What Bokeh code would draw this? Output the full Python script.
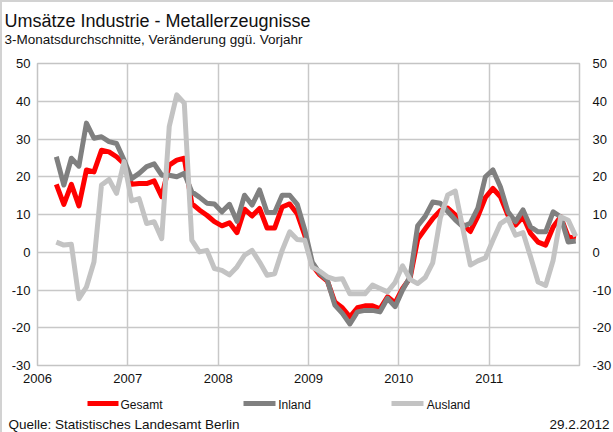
import pandas as pd
from bokeh.plotting import figure
from bokeh.models import (ColumnDataSource, FixedTicker, LinearAxis, Label, Range1d)
from bokeh.embed import file_html
from bokeh.resources import INLINE

FONT = "Liberation Sans"

title_text = "Umsätze Industrie - Metallerzeugnisse"
subtitle_text = "3-Monatsdurchschnitte, Veränderung ggü. Vorjahr"
source_text = "Quelle: Statistisches Landesamt Berlin"
date_text = "29.2.2012"

series_names = ["Gesamt", "Inland", "Ausland"]
series_colors = ["#ff0000", "#808080", "#c3c3c3"]
year_ticks = [2006, 2007, 2008, 2009, 2010, 2011]
year_labels = ["2006", "2007", "2008", "2009", "2010", "2011"]
y_ticks = [-30, -20, -10, 0, 10, 20, 30, 40, 50]
y_labels = ["-30", "-20", "-10", "0", "10", "20", "30", "40", "50"]

first_month = "2006-03-01"   # monthly values, Mar 2006 .. Dec 2011

gesamt = [
    18.0, 12.7, 18.0, 12.3, 21.8, 21.3, 27.0, 26.6, 25.3, 23.5,
    18.0, 18.2, 18.2, 18.9, 14.7, 23.1, 24.4, 24.9, 12.9, 11.2, 9.8, 8.1,
    7.0, 7.8, 5.2, 11.4, 9.6, 11.6, 6.4, 6.4, 12.0, 12.8, 10.2, 4.5,
    -3.5, -6.0, -7.6, -13.2, -14.7, -17.1, -14.7, -14.2, -14.2, -15.0, -11.8, -13.4,
    -9.6, -6.8, 3.4, 6.2, 8.9, 11.0, 11.7, 9.9, 7.3, 5.5, 9.5, 14.5,
    16.9, 14.7, 9.8, 7.2, 9.4, 5.0, 2.7, 1.9, 6.7, 9.4, 4.1, 3.6,
]
inland = [
    25.3, 17.8, 24.9, 22.8, 34.2, 30.2, 30.6, 29.3, 28.8, 24.4,
    19.5, 20.9, 22.7, 23.4, 20.4, 20.4, 20.0, 20.9, 16.0, 14.6, 13.0, 12.8,
    10.7, 12.7, 8.2, 15.1, 12.5, 16.5, 10.5, 10.5, 15.1, 15.1, 12.7, 6.0,
    -2.6, -5.6, -7.4, -14.0, -16.2, -19.0, -15.8, -15.4, -15.4, -15.8, -12.2, -14.4,
    -10.0, -6.5, 7.0, 9.5, 13.3, 13.0, 10.8, 8.6, 6.8, 7.7, 11.7, 20.0,
    21.8, 17.3, 10.7, 8.1, 11.2, 6.7, 5.4, 5.4, 10.7, 9.4, 2.7, 3.0,
]
ausland = [
    2.7, 1.9, 2.1, -12.3, -9.2, -2.6, 17.8, 19.3, 15.6, 24.0,
    13.6, 14.2, 7.6, 8.1, 3.6, 33.3, 41.7, 39.5, 3.2, 0.1, 0.5, -4.3,
    -4.8, -6.0, -3.9, -0.8, 0.5, -2.6, -6.1, -5.7, 0.5, 5.4, 3.4, 3.2,
    -4.0, -5.0, -6.5, -7.2, -7.0, -11.0, -11.0, -11.0, -8.7, -9.6, -10.5, -8.0,
    -3.6, -7.2, -8.3, -6.7, -2.8, 9.0, 15.2, 16.2, 6.3, -3.4, -2.3, -1.5,
    3.2, 7.6, 8.9, 4.5, 5.2, -1.2, -7.9, -8.8, -2.1, 9.4, 8.5, 4.2,
]

months = pd.date_range(first_month, periods=len(gesamt), freq="MS")
xpos = [d.year + (d.month - 0.5) / 12.0 for d in months]
src = ColumnDataSource(dict(x=xpos, gesamt=gesamt, inland=inland, ausland=ausland))

# page layout (pixels)
W, H = 613, 432
FL, FR, FT, FB = 37, 579, 63, 365
X0, X1 = year_ticks[0], year_ticks[-1] + 1
Y0, Y1 = y_ticks[0], y_ticks[-1]


def dx(px):
    return X0 + (px - FL) * (X1 - X0) / (FR - FL)


def dy(py):
    return Y0 + (FB - py) * (Y1 - Y0) / (FB - FT)


p = figure(width=None, height=None,
           frame_width=FR - FL, frame_height=FB - FT,
           output_backend="svg", toolbar_location=None, title=None,
           x_range=Range1d(X0, X1), y_range=Range1d(Y0, Y1),
           min_border_left=FL, min_border_right=W - FR,
           min_border_top=FT, min_border_bottom=H - FB)
p.background_fill_color = "white"
p.border_fill_alpha = 0
p.outline_line_color = "#c4c4c4"
p.outline_line_width = 1.5

p.xaxis.ticker = FixedTicker(ticks=year_ticks)
p.xaxis.major_label_overrides = dict(zip(year_ticks, year_labels))
p.yaxis.ticker = FixedTicker(ticks=y_ticks)
p.yaxis.major_label_overrides = dict(zip(y_ticks, y_labels))
right_axis = LinearAxis(ticker=FixedTicker(ticks=y_ticks),
                        major_label_overrides=dict(zip(y_ticks, y_labels)))
p.add_layout(right_axis, "right")

for ax in list(p.axis):
    ax.axis_line_color = None
    ax.major_tick_line_color = None
    ax.minor_tick_line_color = None
    ax.major_tick_out = 0
    ax.major_tick_in = 0
    ax.major_label_text_font = FONT
    ax.major_label_text_font_size = "13px"
    ax.major_label_text_color = "#111111"
p.xaxis[0].major_label_standoff = 8
p.yaxis[0].major_label_standoff = 7
right_axis.major_label_standoff = 13

p.xgrid.ticker = FixedTicker(ticks=year_ticks)
p.ygrid.ticker = FixedTicker(ticks=y_ticks)
for g in (p.xgrid, p.ygrid):
    g.grid_line_color = "#c8c8c8"
    g.grid_line_width = 1.5

for col, color in zip(["gesamt", "inland", "ausland"], series_colors):
    p.line("x", col, source=src, line_color=color, line_width=5, line_join="round")


def lab(text, px, py, size, place, align="left"):
    p.add_layout(Label(x=dx(px), y=dy(py), text=text,
                       text_font=FONT, text_font_size=size, text_color="#111111",
                       text_baseline="middle", text_align=align), place)


lab(title_text, 4, 20, "18px", "above")
lab(subtitle_text, 4, 38.5, "13.5px", "above")
lab(source_text, 8, 424, "13.5px", "above")
lab(date_text, 609, 424, "13.5px", "below", align="right")

# blank spacer strip so that the legend row sits lower
spacer = LinearAxis(ticker=FixedTicker(ticks=[X0]), major_label_overrides={X0: " "},
                    axis_line_color=None,
                    major_tick_line_color=None, minor_tick_line_color=None,
                    major_tick_out=0, major_tick_in=0, minor_tick_out=0, minor_tick_in=0,
                    major_label_standoff=0, major_label_text_font=FONT,
                    major_label_text_font_size="6px")
p.add_layout(spacer, "below")

# legend below the chart: sample strokes (bounded axis lines) + names
sample_px = [(87, 118), (243, 275), (391, 423)]
name_center_px = [141, 294, 448]
for color, (a, b) in zip(series_colors, sample_px):
    sample = LinearAxis(ticker=FixedTicker(ticks=[]), bounds=(dx(a), dx(b)),
                        axis_line_color=color, axis_line_width=5, axis_line_cap="butt",
                        major_tick_line_color=None, minor_tick_line_color=None,
                        major_tick_out=0, major_tick_in=0, minor_tick_out=0, minor_tick_in=0,
                        major_label_standoff=0, major_label_text_font_size="0px")
    p.add_layout(sample, "below")

name_ticks = [round(dx(c), 4) for c in name_center_px]
names_axis = LinearAxis(ticker=FixedTicker(ticks=name_ticks),
                        major_label_overrides=dict(zip(name_ticks, series_names)),
                        axis_line_color=None, major_tick_line_color=None,
                        minor_tick_line_color=None, major_tick_out=0, major_tick_in=0,
                        major_label_standoff=-6, major_label_text_font=FONT,
                        major_label_text_font_size="12px", major_label_text_color="#111111")
p.add_layout(names_axis, "below")

p.styles = {
    "background": "linear-gradient(#d2d2d2,#d2d2d2) top left / 100% 2px no-repeat, "
                  "linear-gradient(#d2d2d2,#d2d2d2) top left / 2px 100% no-repeat, #ffffff"
}

open("out.html", "w").write(file_html(p, INLINE))
